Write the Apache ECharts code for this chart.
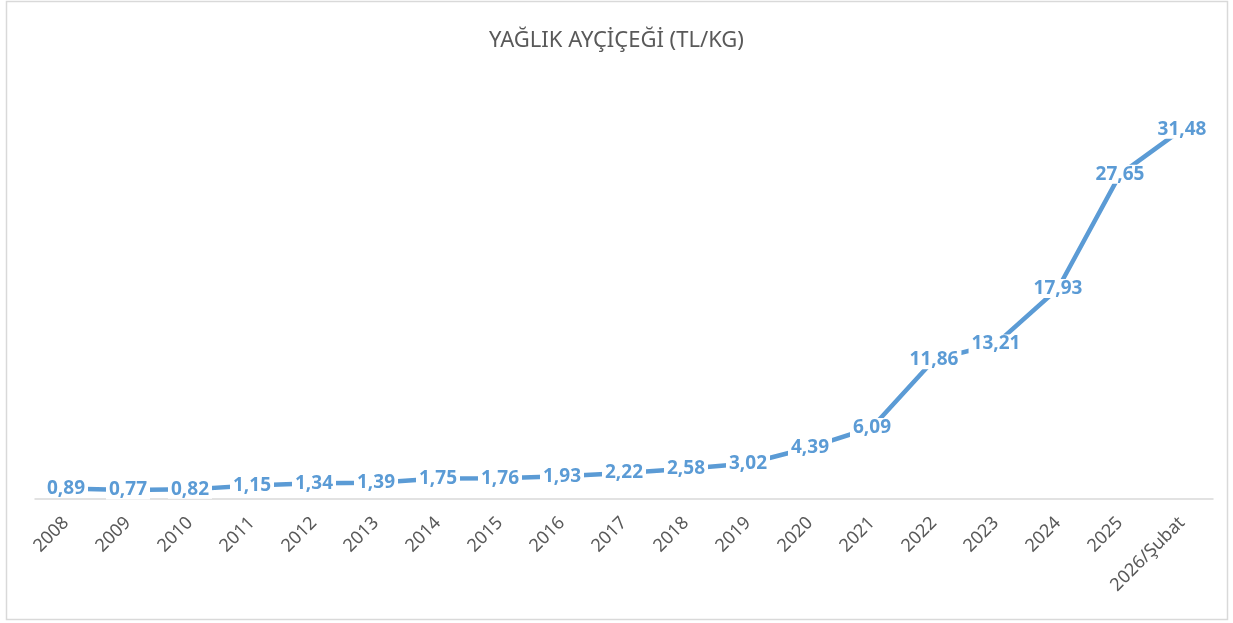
<!DOCTYPE html>
<html>
<head>
<meta charset="utf-8">
<script src="https://cdn.jsdelivr.net/npm/echarts@6/dist/echarts.min.js"></script>
<style>
  html, body { margin: 0; padding: 0; background: #fff; }
  #chart { width: 1233px; height: 623px; }
</style>
</head>
<body>
<div id="chart"></div>
<script>
var titleText = 'YAĞLIK AYÇİÇEĞİ (TL/KG)';
var years = ['2008', '2009', '2010', '2011', '2012', '2013', '2014', '2015', '2016', '2017',
             '2018', '2019', '2020', '2021', '2022', '2023', '2024', '2025', '2026/Şubat'];
var prices = [0.89, 0.77, 0.82, 1.15, 1.34, 1.39, 1.75, 1.76, 1.93, 2.22,
              2.58, 3.02, 4.39, 6.09, 11.86, 13.21, 17.93, 27.65, 31.48];

var myChart = echarts.init(document.getElementById('chart'));

var option = {
    backgroundColor: '#fff',
    animation: false,
    title: {
        text: titleText,
        left: 'center',
        top: 25,
        textStyle: {
            fontFamily: 'Noto Sans',
            fontWeight: 'normal',
            fontSize: 22,
            color: '#595959'
        }
    },
    graphic: [{
        type: 'rect',
        shape: { x: 6.5, y: 1.5, width: 1221, height: 618 },
        style: { fill: 'none', stroke: '#d9d9d9', lineWidth: 1.5 },
        silent: true
    }],
    grid: {
        left: 35,
        right: 20,
        top: 88,
        bottom: 124
    },
    xAxis: {
        type: 'category',
        data: years,
        boundaryGap: true,
        axisLine: { lineStyle: { color: '#d9d9d9', width: 1.5 } },
        axisTick: { show: false },
        axisLabel: {
            interval: 0,
            rotate: 45,
            margin: 21,
            fontFamily: 'Noto Sans',
            fontSize: 18,
            color: '#595959'
        }
    },
    yAxis: {
        type: 'value',
        min: 0,
        max: 35,
        show: false,
        splitLine: { show: false }
    },
    series: [{
        type: 'line',
        data: prices,
        symbol: 'circle',
        symbolSize: 0.1,
        showSymbol: true,
        lineStyle: { color: '#5b9bd5', width: 4.5, cap: 'butt' },
        itemStyle: { color: '#5b9bd5' },
        label: {
            show: true,
            position: 'inside',
            fontFamily: 'Noto Sans',
            fontWeight: 'bold',
            fontSize: 19,
            color: '#5b9bd5',
            backgroundColor: '#fff',
            padding: [0, 3],
            formatter: function (p) {
                return p.value.toFixed(2).replace('.', ',');
            }
        }
    }]
};

myChart.setOption(option);
</script>
</body>
</html>
